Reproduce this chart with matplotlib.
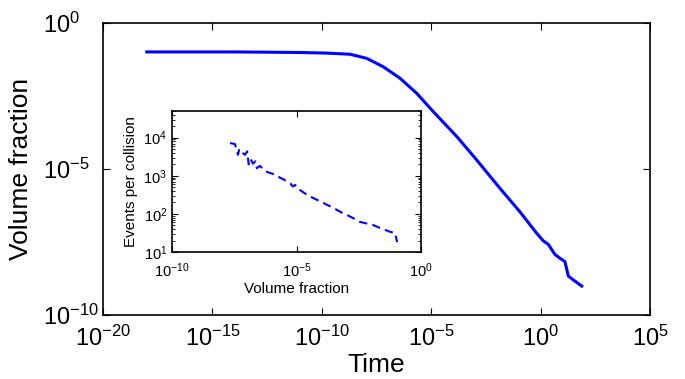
import numpy as np
import matplotlib.pyplot as plt

plt.rcParams['font.family'] = ['Liberation Sans', 'DejaVu Sans']
plt.rcParams['mathtext.fontset'] = 'custom'
plt.rcParams['mathtext.rm'] = 'Liberation Sans'
plt.rcParams['mathtext.it'] = 'Liberation Sans:italic'

# main curve: log10(time), log10(volume fraction)
time_exp = [-18, -14, -11.0, -9.8, -8.71, -7.95, -7.19, -6.43, -5.66, -4.9,
            -3.83, -3.0, -1.86, -0.94, -0.18, 0.12, 0.35, 0.66, 0.89, 1.11,
            1.19, 1.27, 1.5, 1.88]
vol_exp = [-0.99, -0.99, -1.01, -1.03, -1.07, -1.21, -1.50, -1.89, -2.41, -3.04,
           -3.89, -4.62, -5.66, -6.47, -7.20, -7.46, -7.58, -7.93, -8.06, -8.17,
           -8.42, -8.67, -8.80, -9.01]

# inset: log10(volume fraction), log10(events per collision)
inset_x_exp = [-7.67, -7.47, -7.35, -7.3, -7.2, -7.07, -6.98, -6.92, -6.85, -6.75,
               -6.65, -6.59, -6.47, -6.3, -6.18, -5.95, -5.8, -5.66, -5.5, -5.38,
               -5.25, -5.15, -5.05, -4.98, -4.8, -4.58, -4.34, -4.05, -3.78, -3.53,
               -3.17, -2.97, -2.73, -2.45, -1.93, -1.65, -1.24, -1.04, -0.96]
inset_y_exp = [3.86, 3.83, 3.55, 3.7, 3.62, 3.55, 3.64, 3.3, 3.45, 3.32,
               3.38, 3.2, 3.26, 3.15, 3.1, 3.05, 3.0, 2.95, 2.9, 2.84,
               2.8, 2.72, 2.76, 2.68, 2.6, 2.5, 2.42, 2.33, 2.24, 2.16,
               2.03, 1.97, 1.89, 1.79, 1.71, 1.63, 1.53, 1.5, 1.26]

fig = plt.figure(figsize=(6.85, 3.79), dpi=100)

ax = fig.add_axes([0.1504, 0.1689, 0.7985, 0.7704])
ax.plot(np.power(10.0, time_exp), np.power(10.0, vol_exp), color='#0000ff', lw=2.2,
        solid_joinstyle='round')
ax.set_xscale('log')
ax.set_yscale('log')
ax.set_xlim(1e-20, 1e5)
ax.set_ylim(1e-10, 1e0)
ax.set_xticks([1e-20, 1e-15, 1e-10, 1e-5, 1e0, 1e5])
ax.set_yticks([1e-10, 1e-5, 1e0])
ax.minorticks_off()
ax.tick_params(direction='in', top=True, right=True, length=5, width=0.8,
               labelsize=17)
ax.tick_params(axis='x', pad=8)
# matlab-style: y tick labels left aligned
ax.tick_params(axis='y', pad=43)
plt.setp(ax.get_yticklabels(), ha='left')
for s in ax.spines.values():
    s.set_linewidth(1.2)
ax.set_xlabel('Time', fontsize=19, labelpad=1)
ax.set_ylabel('Volume fraction', fontsize=19)
ax.yaxis.set_label_coords(-0.128, 0.5)

ins = fig.add_axes([0.2511, 0.3351, 0.3635, 0.372])
ins.plot(np.power(10.0, inset_x_exp), np.power(10.0, inset_y_exp), color='#0000ff',
         lw=1.5, dashes=(4, 2.5))
ins.set_xscale('log')
ins.set_yscale('log')
ins.set_xlim(1e-10, 1e0)
ins.set_ylim(1e1, 10 ** 4.7)
ins.set_xticks([1e-10, 1e-5, 1e0])
ins.set_yticks([1e1, 1e2, 1e3, 1e4])
ins.xaxis.set_minor_locator(plt.NullLocator())
ins.tick_params(which='both', direction='in', top=True, right=True, labelsize=10.5)
ins.tick_params(which='major', length=4)
ins.tick_params(which='minor', length=2)
ins.tick_params(axis='x', pad=7)
for s in ins.spines.values():
    s.set_linewidth(1.2)
ins.set_xlabel('Volume fraction', fontsize=11, labelpad=1)
ins.set_ylabel('Events per collision', fontsize=11, labelpad=4)

fig.savefig('out.png', dpi=100)
